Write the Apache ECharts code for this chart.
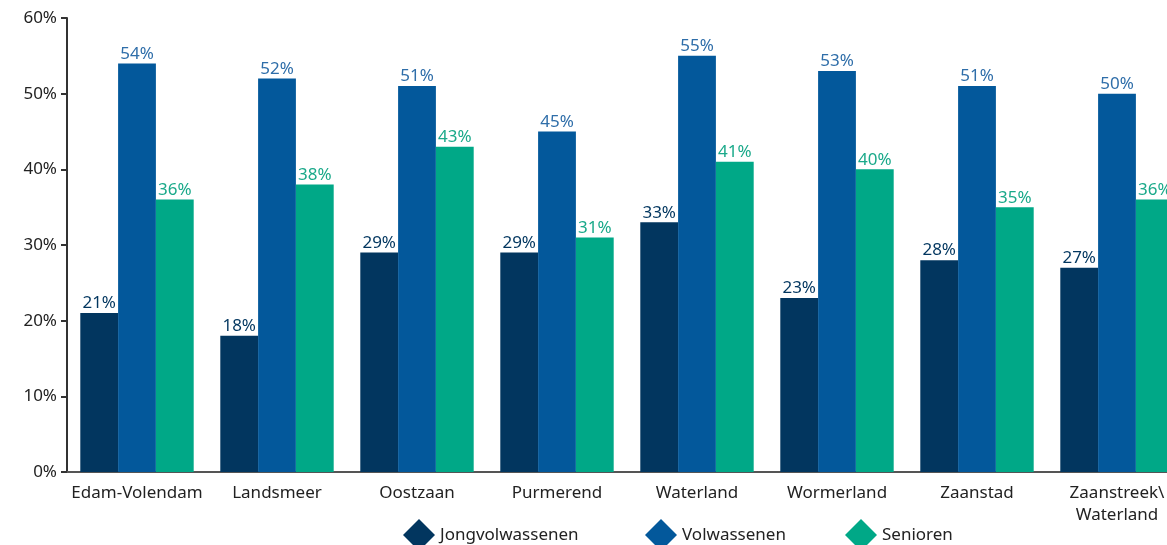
<!DOCTYPE html>
<html>
<head>
<meta charset="utf-8">
<script src="https://cdn.jsdelivr.net/npm/echarts@6/dist/echarts.min.js"></script>
<style>
html,body{margin:0;padding:0;background:#fff;}
#c{width:1167px;height:545px;}
</style>
</head>
<body>
<div id="c"></div>
<script>
var categories = ['Edam-Volendam','Landsmeer','Oostzaan','Purmerend','Waterland','Wormerland','Zaanstad','Zaanstreek\\\nWaterland'];
var seriesNames = ['Jongvolwassenen','Volwassenen','Senioren'];
var jongvolwassenen = [21,18,29,29,33,23,28,27];
var volwassenen = [54,52,51,45,55,53,51,50];
var senioren = [36,38,43,31,41,40,35,36];
var yTicks = [0,10,20,30,40,50,60];

var FONT = 'Noto Sans';
function mk(name, data, color, labelColor){
  return {
    name: name, type: 'bar', data: data, barGap: '0%', barCategoryGap: '19%',
    itemStyle: {color: color},
    label: {show: true, position: 'top', distance: 1, formatter: '{c}%', color: labelColor, fontFamily: FONT, fontSize: 17},
    emphasis: {disabled: true}
  };
}
function lg(name, left){
  return {
    left: left, top: 514, icon: 'diamond', itemWidth: 32, itemHeight: 32,
    textStyle: {fontFamily: FONT, fontSize: 17, color: '#222'},
    data: [name], selectedMode: false
  };
}
var chart = echarts.init(document.getElementById('c'), null, {renderer: 'canvas'});
chart.setOption({
  animation: false,
  textStyle: {fontFamily: FONT},
  grid: {left: 67, top: 18, width: 1120, height: 454, containLabel: false, outerBoundsMode: 'none'},
  legend: [lg(seriesNames[0], 398), lg(seriesNames[1], 640), lg(seriesNames[2], 840)],
  xAxis: {
    type: 'category', data: categories,
    axisLine: {lineStyle: {color: '#555', width: 2}},
    axisTick: {show: false},
    axisLabel: {color: '#222', fontFamily: FONT, fontSize: 17, margin: 10, interval: 0, lineHeight: 22, hideOverlap: false}
  },
  yAxis: {
    type: 'value', min: yTicks[0], max: yTicks[yTicks.length-1], interval: 10,
    axisLine: {show: true, lineStyle: {color: '#333', width: 2}},
    axisTick: {show: true, length: 6, lineStyle: {color: '#333', width: 2}},
    splitLine: {show: false},
    axisLabel: {formatter: '{value}%', color: '#222', fontFamily: FONT, fontSize: 17, margin: 10}
  },
  series: [
    mk(seriesNames[0], jongvolwassenen, '#02365f', '#02365f'),
    mk(seriesNames[1], volwassenen, '#03589b', '#2f6ea9'),
    mk(seriesNames[2], senioren, '#00a887', '#1aa98a')
  ]
});
</script>
</body>
</html>
